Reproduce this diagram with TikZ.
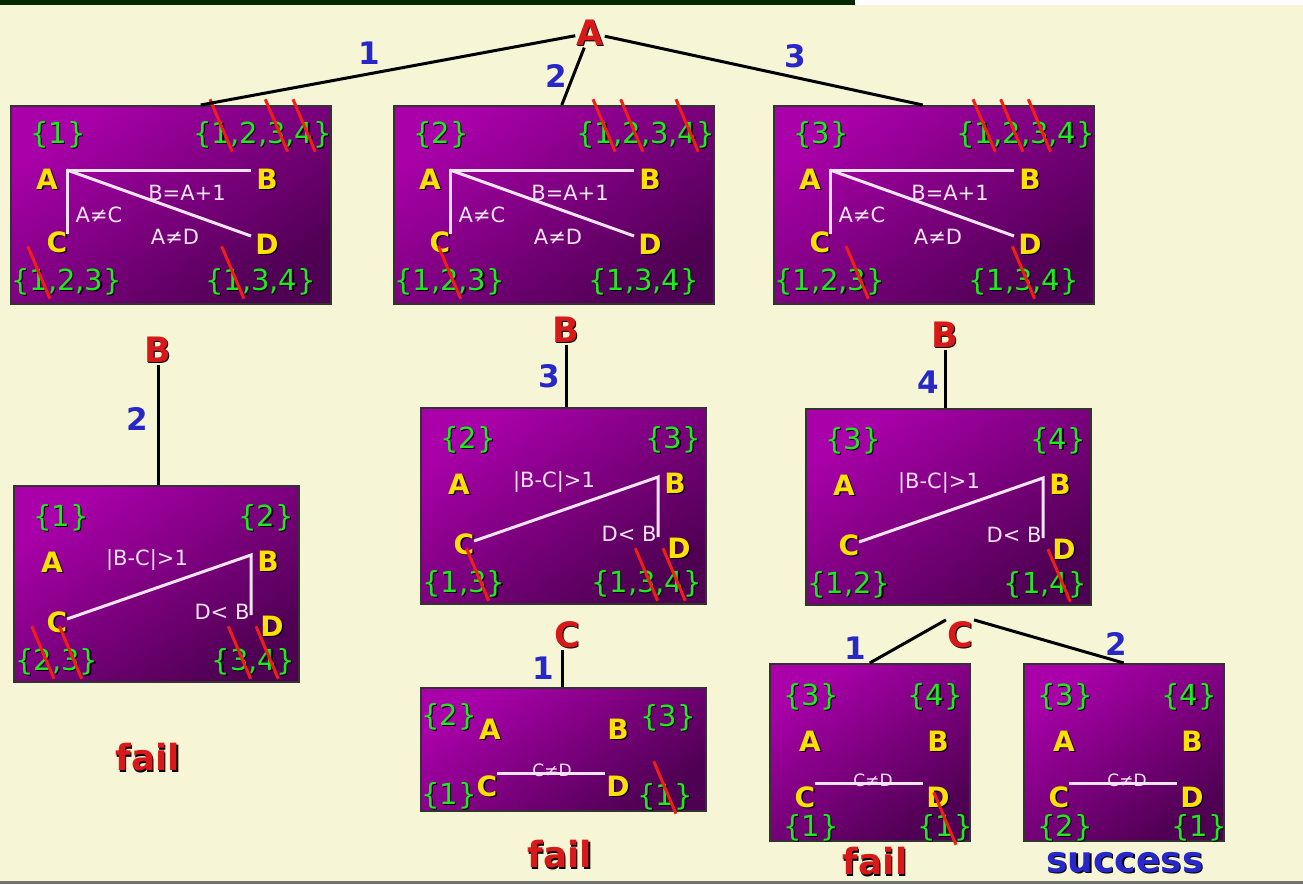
\documentclass[tikz,border=0pt]{standalone}
\usepackage{fontspec}
\setmainfont{DejaVu Sans}
\usepackage{graphicx}

\definecolor{cream}{RGB}{246,246,214}
\definecolor{bargreen}{RGB}{0,40,0}
\definecolor{boxtop}{RGB}{170,0,170}
\definecolor{boxbot}{RGB}{78,0,82}
\definecolor{domgreen}{RGB}{30,235,30}
\definecolor{varyellow}{RGB}{255,225,0}
\definecolor{conswhite}{RGB}{245,228,245}
\definecolor{valblue}{RGB}{40,40,200}
\definecolor{pickred}{RGB}{215,25,25}
\definecolor{slashred}{RGB}{240,30,20}

% value removed from a domain
\newcommand\cut[1]{\setbox0\hbox{#1}\copy0\llap{\hbox to\wd0{\hss\smash{\raisebox{16pt}{\color{slashred}\rotatebox[origin=c]{-67}{\rule{57pt}{3pt}}}}\hss}}}
% dark drop behind coloured text
\newcommand\shd[1]{\rlap{\kern1.3pt\raisebox{-1.3pt}{\color{black}\let\cut\relax#1}}#1}

\begin{document}
\begin{tikzpicture}[x=1pt,y=-1pt,
    box/.style={draw=black!80,line width=1.5pt,top color=boxtop,bottom color=boxbot,shading angle=35,anchor=north west,inner sep=0pt},
    dom/.style={text=domgreen,font=\fontsize{29}{32}\selectfont,inner sep=0pt},
    var/.style={text=varyellow,font=\bfseries\fontsize{28}{30}\selectfont,inner sep=0pt},
    cons/.style={text=conswhite,font=\fontsize{21}{23}\selectfont,inner sep=0pt},
    cons2/.style={text=conswhite,font=\fontsize{17}{19}\selectfont,inner sep=0pt},
    wire/.style={draw=conswhite,line width=3pt},
    edge/.style={draw=black,line width=3pt},
    val/.style={text=valblue,font=\bfseries\fontsize{31}{33}\selectfont,inner sep=0pt},
    pick/.style={text=pickred,font=\bfseries\fontsize{35}{37}\selectfont,inner sep=1pt},
    verdict/.style={font=\bfseries\fontsize{36}{40}\selectfont,inner sep=0pt}]
  \useasboundingbox (0,0) rectangle (1303,884);
  \fill[cream] (0,0) rectangle (1303,884);
  \fill[bargreen] (0,0) rectangle (855,5);
  \fill[white] (855,0) rectangle (1303,5);
  \fill[black!55] (0,881) rectangle (1303,884);

  % first variable
  \node[pick] (rA) at (590,33) {\shd{A}};
  \foreach \n/\x/\dA/\dB/\dC/\dD in {1/10/1/{\cut{1},2,\cut{3},\cut{4}}/{\cut{1},2,3}/{\cut{1},3,4},
      2/393/2/{\cut{1},\cut{2},3,\cut{4}}/{1,\cut{2},3}/{1,3,4},
      3/773/3/{\cut{1},\cut{2},\cut{3},4}/{1,2,\cut{3}}/{1,\cut{3},4}} {
    \node[box,minimum width=320pt,minimum height=198pt] (b\n) at (\x,105) {};
    \node[dom,anchor=west] (da\n) at (\x+20,135) {\shd{\{\dA\}}};
    \node[dom,anchor=east] (db\n) at (\x+322,135) {\shd{\{\dB\}}};
    \node[var] (A\n) at (\x+37,180) {\shd{A}};
    \node[var] (B\n) at (\x+257,180) {\shd{B}};
    \node[var] (C\n) at (\x+47,243) {\shd{C}};
    \node[var] (D\n) at (\x+257,245) {\shd{D}};
    \node[dom,anchor=west] (dc\n) at (\x+1,282) {\shd{\{\dC\}}};
    \node[dom,anchor=east] (dd\n) at (\x+306,282) {\shd{\{\dD\}}};
    \coordinate (k\n) at (\x+57,170);
    \coordinate (kb\n) at (\x+241,170);
    \coordinate (kc\n) at (\x+57,234);
    \coordinate (kd\n) at (\x+241,236);
    \draw[wire] (kb\n) -- (k\n) -- (kc\n);
    \draw[wire] (k\n) -- (kd\n);
    \node[cons] (la\n) at (\x+177,193) {B=A+1};
    \node[cons] (lb\n) at (\x+89,215) {A≠C};
    \node[cons] (lc\n) at (\x+165,237) {A≠D};
  }
  \draw[edge] (rA) -- ([xshift=30pt]b1.north) node[val,pos=.55,above=8pt] (e1) {1};
  \draw[edge] (rA) -- ([xshift=8pt]b2.north) node[val,pos=.5,left=4pt] (e2) {2};
  \draw[edge] (rA) -- ([xshift=-11pt]b3.north) node[val,pos=.6,above=8pt] (e3) {3};

  % second variable
  \foreach \n/\x/\y/\dA/\dB/\dC/\dD in {4/13/485/1/2/{\cut{2},\cut{3}}/{\cut{3},\cut{4}},
      5/420/407/2/3/{1,\cut{3}}/{1,\cut{3},\cut{4}},
      6/805/408/3/4/{1,2}/{1,\cut{4}}} {
    \node[box,minimum width=285pt,minimum height=196pt] (b\n) at (\x,\y) {};
    \node[dom,anchor=west] (da\n) at (\x+20,\y+33) {\shd{\{\dA\}}};
    \node[dom,anchor=east] (db\n) at (\x+281,\y+33) {\shd{\{\dB\}}};
    \node[var] (A\n) at (\x+39,\y+78) {\shd{A}};
    \node[var] (B\n) at (\x+255,\y+77) {\shd{B}};
    \node[var] (C\n) at (\x+44,\y+138) {\shd{C}};
    \node[var] (D\n) at (\x+259,\y+142) {\shd{D}};
    \node[dom,anchor=west] (dc\n) at (\x+2,\y+177) {\shd{\{\dC\}}};
    \node[dom,anchor=east] (dd\n) at (\x+282,\y+177) {\shd{\{\dD\}}};
    \coordinate (kc\n) at (\x+54,\y+134);
    \coordinate (k\n) at (\x+238,\y+70);
    \coordinate (kd\n) at (\x+238,\y+130);
    \draw[wire] (kc\n) -- (k\n) -- (kd\n);
    \node[cons] (la\n) at (\x+134,\y+75) {|B-C|>1};
    \node[cons] (lb\n) at (\x+209,\y+127) {D< B};
  }
  \node[pick] (p4) at (158,350) {\shd{B}};
  \draw[edge] (p4) -- (p4 |- b4.north) node[val,pos=.45,left=8pt] (e4) {2};
  \node[pick] (p5) at (566,330) {\shd{B}};
  \draw[edge] (p5) -- (p5 |- b5.north) node[val,pos=.5,left=4pt] (e5) {3};
  \node[pick] (p6) at (945,335) {\shd{B}};
  \draw[edge] (p6) -- (p6 |- b6.north) node[val,pos=.55,left=4pt] (e6) {4};

  % third variable
  \node[box,minimum width=285pt,minimum height=123pt] (b7) at (420,687) {};
  \node[dom,anchor=west] (da7) at (421,717) {\shd{\{2\}}};
  \node[var] (A7) at (490,730) {\shd{A}};
  \node[var] (B7) at (618,730) {\shd{B}};
  \node[dom,anchor=west] (db7) at (640,718) {\shd{\{3\}}};
  \node[var] (C7) at (487,787) {\shd{C}};
  \node[var] (D7) at (618,787) {\shd{D}};
  \node[dom,anchor=west] (dc7) at (421,796) {\shd{\{1\}}};
  \node[dom,anchor=west] (dd7) at (637,797) {\shd{\{\cut{1}\}}};
  \coordinate (kc7) at (497,773);
  \coordinate (kd7) at (605,773);
  \draw[wire] (kc7) -- (kd7);
  \node[cons2,anchor=south] (l7) at (552,777) {C≠D};
  \node[pick] (p7) at (567,635) {\shd{C}};
  \draw[edge] ([xshift=-5pt]p7.south) -- ([xshift=-5pt]p7.south |- b7.north) node[val,pos=.5,left=6pt] (e7) {1};

  \foreach \n/\x/\dC/\dD in {8/769/1/\cut{1},9/1023/2/1} {
    \node[box,minimum width=200pt,minimum height=177pt] (b\n) at (\x,663) {};
    \node[dom,anchor=west] (da\n) at (\x+14,697) {\shd{\{3\}}};
    \node[dom,anchor=east] (db\n) at (\x+194,697) {\shd{\{4\}}};
    \node[var] (A\n) at (\x+41,742) {\shd{A}};
    \node[var] (B\n) at (\x+169,742) {\shd{B}};
    \node[var] (C\n) at (\x+36,798) {\shd{C}};
    \node[var] (D\n) at (\x+169,798) {\shd{D}};
    \node[dom,anchor=west] (dc\n) at (\x+14,828) {\shd{\{\dC\}}};
    \node[dom,anchor=west] (dd\n) at (\x+148,828) {\shd{\{\dD\}}};
    \coordinate (kc\n) at (\x+46,783);
    \coordinate (kd\n) at (\x+154,783);
    \draw[wire] (kc\n) -- (kd\n);
    \node[cons2,anchor=south] (l\n) at (\x+104,787) {C≠D};
  }
  \node[pick] (p8) at (960,635) {\shd{C}};
  \draw[edge] (p8.north west) -- (b8.north) node[val,pos=1,above left=2pt] (e8) {1};
  \draw[edge] (p8.north east) -- (b9.north) node[val,pos=.95,above=4pt] (e9) {2};

  % outcomes
  \node[verdict,text=pickred] (v4) at (148,758) {\shd{fail}};
  \node[verdict,text=pickred] (v7) at (560,855) {\shd{fail}};
  \node[verdict,text=pickred] (v8) at (875,862) {\shd{fail}};
  \node[verdict,text=valblue] (v9) at (1125,863) {\shd{success}};
\end{tikzpicture}
\end{document}
